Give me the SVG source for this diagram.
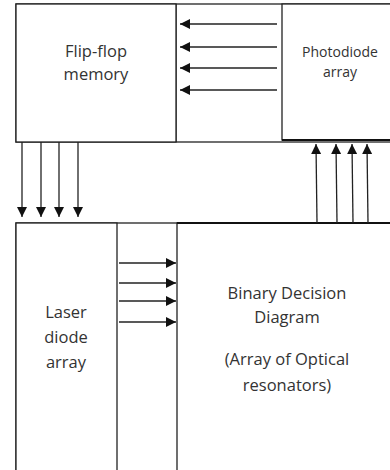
<svg xmlns="http://www.w3.org/2000/svg" width="390" height="470" viewBox="0 0 390 470">
<style>
.box{fill:#fff;stroke:#222;stroke-width:1.3}
.thick{fill:none;stroke:#111;stroke-width:2.2}
.ln{stroke:#222;stroke-width:1.3;fill:none}
.t{font-family:"Open Sans","Liberation Sans",sans-serif;font-size:16.5px;fill:#333;text-anchor:middle}
.s{font-size:14px}
</style>
<defs>
<marker id="ah" viewBox="0 0 10 10" refX="10" refY="5" markerWidth="10" markerHeight="10" markerUnits="userSpaceOnUse" orient="auto">
<path d="M0,0 L10,5 L0,10 z" fill="#111"/>
</marker>
</defs>
<rect width="390" height="470" fill="#fff"/>
<g id="top-frame">
<rect class="box" x="16" y="4" width="380" height="138"/>
<line class="ln" x1="176" y1="4" x2="176" y2="142"/>
</g>
<g id="flipflop">
<rect class="box" x="16" y="4" width="160" height="138"/>
<text class="t" x="96" y="57">Flip-flop</text>
<text class="t" x="96" y="80">memory</text>
</g>
<g id="photodiode">
<rect class="box" x="282" y="4" width="114" height="136"/>
<line class="thick" x1="282" y1="140" x2="390" y2="140"/>
<text class="t s" x="340" y="57">Photodiode</text>
<text class="t s" x="340" y="77">array</text>
</g>
<g id="bottom-frame">
<rect class="box" x="16" y="223" width="380" height="252"/>
</g>
<g id="laser">
<rect class="box" x="16" y="223" width="101" height="252"/>
<text class="t" x="66" y="318">Laser</text>
<text class="t" x="66" y="343">diode</text>
<text class="t" x="66" y="368">array</text>
</g>
<g id="bdd">
<rect class="box" x="177" y="223" width="219" height="252"/>
<line class="thick" x1="177" y1="223" x2="390" y2="223"/>
<text class="t" x="287" y="299">Binary Decision</text>
<text class="t" x="287" y="323">Diagram</text>
<text class="t" x="287" y="365">(Array of Optical</text>
<text class="t" x="287" y="391">resonators)</text>
</g>
<g id="connectors" class="ln" marker-end="url(#ah)">
<line x1="277" y1="24" x2="180" y2="24"/>
<line x1="277" y1="47" x2="180" y2="47"/>
<line x1="277" y1="68" x2="180" y2="68"/>
<line x1="277" y1="90" x2="180" y2="90"/>
<line x1="22" y1="142" x2="22" y2="217"/>
<line x1="41" y1="142" x2="41" y2="217"/>
<line x1="59" y1="142" x2="59" y2="217"/>
<line x1="78" y1="142" x2="78" y2="217"/>
<line x1="119" y1="263" x2="176" y2="263"/>
<line x1="119" y1="283" x2="176" y2="283"/>
<line x1="119" y1="301" x2="176" y2="301"/>
<line x1="119" y1="322" x2="176" y2="322"/>
<line x1="317" y1="223" x2="316" y2="144"/>
<line x1="337" y1="223" x2="336" y2="144"/>
<line x1="353" y1="223" x2="352" y2="144"/>
<line x1="368" y1="223" x2="367" y2="144"/>
</g>
</svg>
